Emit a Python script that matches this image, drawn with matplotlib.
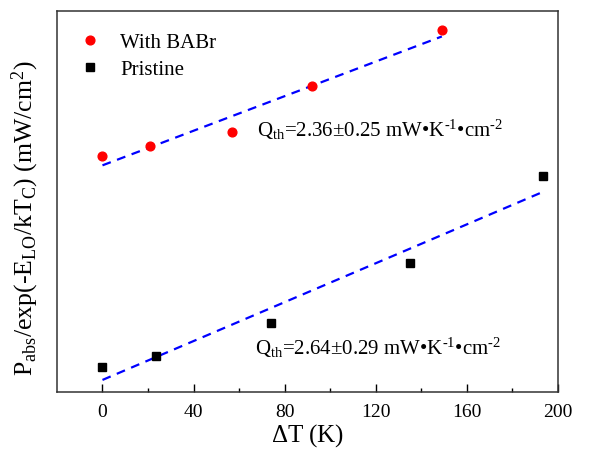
import numpy as np
import matplotlib.pyplot as plt

plt.rcParams['font.family'] = ['Liberation Serif', 'DejaVu Serif']
plt.rcParams['mathtext.fontset'] = 'custom'
plt.rcParams['mathtext.rm'] = 'Liberation Serif'
plt.rcParams['mathtext.it'] = 'Liberation Serif:italic'

# temperature rise (K) and normalised absorbed power (mW/cm^2)
dT_babr = [0, 21, 57, 92, 149]
p_babr = [2.36, 2.46, 2.60, 3.06, 3.62]
dT_pris = [0, 23.7, 74, 135, 193.4]
p_pris = [0.25, 0.36, 0.69, 1.29, 2.16]

q_babr = "2.36±0.25"
q_pris = "2.64±0.29"
unit = r' mW•K$^{\text{-1}}$•cm$^{\text{-2}}$'

fig = plt.figure(figsize=(5.93, 4.52), dpi=100)
ax = fig.add_axes([0.096, 0.1305, 0.845, 0.8425])

ax.plot(dT_babr, p_babr, 'o', color='red', markersize=6.3, label='With BABr', zorder=3)
ax.plot(dT_pris, p_pris, 's', color='black', markersize=5.8, label='Pristine', zorder=3)

# linear fits
for xs, ys in [(dT_babr, p_babr), (dT_pris, p_pris)]:
    k, b = np.polyfit(xs, ys, 1)
    xf = np.array([xs[0], xs[-1]])
    ax.plot(xf, k * xf + b, '--', color='blue', lw=1.6, dashes=(4, 3), zorder=2)

ax.text(68, 2.56, r'Q$_{\rm th}$=' + q_babr + unit, fontsize=15)
ax.text(67, 0.38, r'Q$_{\rm th}$=' + q_pris + unit, fontsize=15)

ax.set_xlim(-20, 200)
ax.set_ylim(0, 3.81)
ax.set_xticks([0, 40, 80, 120, 160, 200])
ax.set_xticks([20, 60, 100, 140, 180], minor=True)
ax.set_yticks([])
ax.tick_params(axis='x', direction='in', length=6, width=1, labelsize=14, pad=8)
ax.tick_params(axis='x', which='minor', direction='in', length=3, width=1)
for s in ax.spines.values():
    s.set_linewidth(1.1)
    s.set_color('#333333')

ax.set_xlabel(r'$\Delta$T (K)', fontsize=18, labelpad=1)
ax.set_ylabel(r'P$_{\rm abs}$/exp(-E$_{\rm LO}$/kT$_{\rm C}$) (mW/cm$^{2}$)', fontsize=18.5, labelpad=8)
ax.yaxis.set_label_coords(-0.032, 0.46)

ax.legend(loc='upper left', bbox_to_anchor=(0.0244, 0.944), frameon=False, fontsize=15,
          handlelength=2, handletextpad=0.45, borderaxespad=0, borderpad=0, labelspacing=0.35)

fig.savefig('out.png', dpi=100)
